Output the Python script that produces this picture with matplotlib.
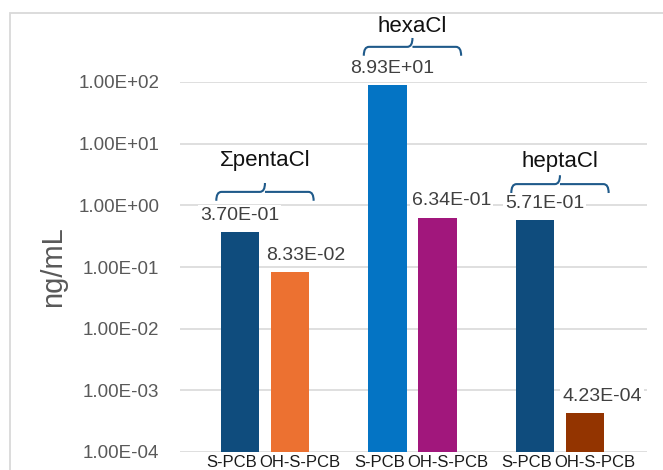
import matplotlib
matplotlib.use("Agg")
import matplotlib.pyplot as plt
import numpy as np
from matplotlib.path import Path
from matplotlib.patches import PathPatch, Rectangle
from matplotlib.transforms import blended_transform_factory, ScaledTranslation

plt.rcParams["font.family"] = ["Liberation Sans", "DejaVu Sans"]

# data
groups = ["ΣpentaCl", "hexaCl", "heptaCl"]
series = ["S-PCB", "OH-S-PCB"]
s_pcb = [3.70e-01, 8.93e+01, 5.71e-01]
oh_s_pcb = [8.33e-02, 6.34e-01, 4.23e-04]
y_ticks = [1e-4, 1e-3, 1e-2, 1e-1, 1e0, 1e1, 1e2]

# styling
s_colors = ["#0f4c7d", "#0474c4", "#0f4c7d"]
oh_colors = ["#ec7131", "#a1177c", "#933400"]
label_dx = {"S-PCB": [0, 5, 10], "OH-S-PCB": [16, 14, 17]}   # px shift of value labels
tick_dx = {"S-PCB": -8, "OH-S-PCB": 10}                       # px shift of category labels
group_text_y = [0.789, 1.151, 0.784]     # axes fraction
brace_y = [0.703, 1.095, 0.724]
offset, width = 0.17, 0.26

fig = plt.figure(figsize=(6.63, 4.70), dpi=100)
ax = fig.add_axes([180 / 663, 18 / 470, 467 / 663, 370 / 470])
ax.set_yscale("log")
ax.set_ylim(1e-4, 1e2)
ax.set_xlim(-0.576, 2.59)

# outer chart border
fig.patches.append(Rectangle((10 / 663, -0.1), 1.0, 1.1 - 13 / 470,
                             transform=fig.transFigure, fill=False,
                             edgecolor="#d9d9d9", linewidth=1.3))

ax.set_yticks(y_ticks)
ax.yaxis.set_major_formatter(plt.FuncFormatter(lambda v, p: f"{v:.2E}"))
ax.yaxis.set_minor_locator(plt.NullLocator())
ax.grid(axis="y", color="#d9d9d9", linewidth=1.2)
ax.set_axisbelow(True)
for s in ax.spines.values():
    s.set_visible(False)
ax.tick_params(axis="y", length=0, pad=15, labelsize=13.5, labelcolor="#595959")
ax.tick_params(axis="x", length=0, pad=2.5, labelsize=12, labelcolor="#1a1a1a")

centers = np.arange(len(groups))
xpos, xlab = [], []
for i, c in enumerate(centers):
    for name, vals, cols, sign in [("S-PCB", s_pcb, s_colors, -1),
                                   ("OH-S-PCB", oh_s_pcb, oh_colors, 1)]:
        x = c + sign * offset
        v = vals[i]
        ax.bar(x, v, width=width, color=cols[i], zorder=2)
        ax.annotate(f"{v:.2E}", (x, v), xytext=(label_dx[name][i] * 0.72, 12),
                    textcoords="offset points", ha="center", va="center",
                    fontsize=14, color="#404040", zorder=4,
                    bbox=dict(boxstyle="square,pad=0.1", fc="white", ec="none"))
        xpos.append(x)
        xlab.append(name)
ax.set_xticks(xpos)
ax.set_xticklabels(xlab)
for lbl, name in zip(ax.get_xticklabels(), xlab):
    lbl.set_transform(lbl.get_transform() +
                      ScaledTranslation(tick_dx[name] / 100, 0, fig.dpi_scale_trans))

# group braces and names
trans = blended_transform_factory(ax.transData, ax.transAxes)
hw, r, tip, drop = 0.33, 0.035, 0.024, 0.024
for c, name, ty, by in zip(centers, groups, group_text_y, brace_y):
    verts = [(c - hw, by - drop), (c - hw, by), (c - hw + r, by),
             (c - r, by), (c, by), (c, by + tip),
             (c, by), (c + r, by),
             (c + hw - r, by), (c + hw, by), (c + hw, by - drop)]
    codes = [Path.MOVETO, Path.CURVE3, Path.CURVE3,
             Path.LINETO, Path.CURVE3, Path.CURVE3,
             Path.MOVETO, Path.LINETO,
             Path.LINETO, Path.CURVE3, Path.CURVE3]
    ax.add_patch(PathPatch(Path(verts, codes), transform=trans, fill=False,
                           edgecolor="#1f5a8a", linewidth=1.5, clip_on=False))
    ax.text(c, ty, name, transform=trans, ha="center", va="center",
            fontsize=16, color="#111111", clip_on=False)

fig.text(53 / 663, 1 - 267 / 470, "ng/mL", rotation=90, ha="center", va="center",
         fontsize=21, color="#595959")

fig.savefig("out.png", dpi=100)
